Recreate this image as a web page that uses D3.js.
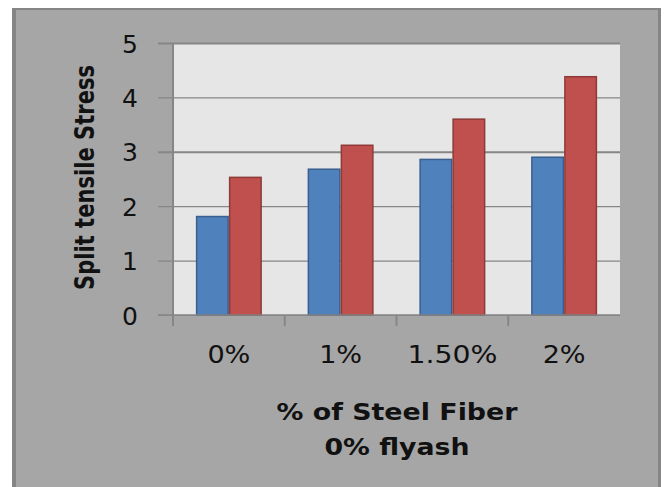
<!DOCTYPE html>
<html>
<head>
<meta charset="utf-8">
<script src="https://cdn.jsdelivr.net/npm/d3@7"></script>
<style>
  html, body { margin: 0; padding: 0; background: #ffffff; }
  svg { display: block; }
</style>
</head>
<body>
<svg id="chart" width="667" height="487"></svg>
<script>
// ---- data ----
const categories = ["0%", "1%", "1.50%", "2%"];
const seriesNames = ["Series1", "Series2"];
const series1 = [1.81, 2.68, 2.86, 2.90];
const series2 = [2.53, 3.12, 3.60, 4.38];
const yTicks = [0, 1, 2, 3, 4, 5];
const yTitle = "Split tensile Stress";
const xTitleLines = ["% of Steel Fiber", "0% flyash"];

// ---- layout ----
const W = 667, H = 487;
const plot = { left: 173, right: 620, top: 43, bottom: 315 };
const colors = ["#4f81bd", "#c0504d"];
const strokes = ["#3a5f8e", "#8e3a38"];

const svg = d3.select("#chart");

// panel
svg.append("rect").attr("x", 0).attr("y", 0).attr("width", W).attr("height", H).attr("fill", "#ffffff");
svg.append("rect").attr("x", 12).attr("y", 8).attr("width", 649).attr("height", H - 8).attr("fill", "#858585");
svg.append("rect").attr("x", 16).attr("y", 10).attr("width", 642).attr("height", H - 10).attr("fill", "#a6a6a6");

// plot background
svg.append("rect")
  .attr("x", plot.left).attr("y", plot.top)
  .attr("width", plot.right - plot.left).attr("height", plot.bottom - plot.top)
  .attr("fill", "#e6e6e6");

const x = d3.scaleBand().domain(categories).range([plot.left, plot.right]).paddingInner(0).paddingOuter(0);
const xs = d3.scaleBand().domain(seriesNames).range([0, x.bandwidth()]).paddingInner(0).paddingOuter(0.693);
const y = d3.scaleLinear().domain([0, 5]).range([plot.bottom, plot.top]);

// gridlines + y ticks
const yAxis = d3.axisLeft(y).tickValues(yTicks).tickSize(0).tickPadding(0).tickFormat(d3.format("d"));
const gy = svg.append("g").attr("transform", `translate(${plot.left},0)`).call(yAxis);
gy.select(".domain").remove();
gy.selectAll(".tick text").remove();
gy.selectAll(".tick").append("line")
  .attr("x1", -15).attr("x2", plot.right - plot.left)
  .attr("stroke", "#868686")
  .attr("stroke-width", d => (d === 3 || d === 5) ? 2 : 1.2);
gy.selectAll(".tick").append("text")
  .attr("x", -35).attr("dy", "0.36em")
  .attr("text-anchor", "end")
  .attr("font-family", "DejaVu Sans, sans-serif")
  .attr("font-size", 25)
  .attr("fill", "#111")
  .text(d => d);

// bars
const data = categories.map((c, i) => ({ c, vals: [series1[i], series2[i]] }));
const groups = svg.append("g").selectAll("g").data(data).join("g")
  .attr("transform", d => `translate(${x(d.c)},0)`);
groups.selectAll("rect").data(d => d.vals.map((v, j) => ({ v, s: seriesNames[j], j }))).join("rect")
  .attr("x", d => xs(d.s) + 0.75)
  .attr("y", d => y(d.v))
  .attr("width", xs.bandwidth() - 1.5)
  .attr("height", d => y(0) - y(d.v))
  .attr("fill", d => colors[d.j])
  .attr("stroke", d => strokes[d.j])
  .attr("stroke-width", 1.5);

// y axis line
svg.append("line")
  .attr("x1", plot.left).attr("x2", plot.left)
  .attr("y1", plot.top).attr("y2", plot.bottom + 11)
  .attr("stroke", "#868686").attr("stroke-width", 2);
// x axis line
svg.append("line")
  .attr("x1", plot.left - 15).attr("x2", plot.right)
  .attr("y1", plot.bottom).attr("y2", plot.bottom)
  .attr("stroke", "#868686").attr("stroke-width", 1.5);
// x tick marks at category boundaries
svg.append("g").selectAll("line").data(categories).join("line")
  .attr("x1", d => x(d)).attr("x2", d => x(d))
  .attr("y1", plot.bottom).attr("y2", plot.bottom + 11)
  .attr("stroke", "#868686").attr("stroke-width", 2);

// x labels
const xlW = { "0%": 43, "1%": 43, "1.50%": 90, "2%": 43 };
svg.append("g").selectAll("text").data(categories).join("text")
  .attr("x", d => x(d) + x.bandwidth() / 2)
  .attr("y", 363)
  .attr("text-anchor", "middle")
  .attr("font-family", "DejaVu Sans, sans-serif")
  .attr("font-size", 25)
  .attr("fill", "#111")
  .attr("textLength", d => xlW[d])
  .attr("lengthAdjust", "spacingAndGlyphs")
  .text(d => d);

// x title
const xtW = [241, 145];
svg.append("g").selectAll("text").data(xTitleLines).join("text")
  .attr("x", 397)
  .attr("y", (d, i) => 420 + i * 35)
  .attr("text-anchor", "middle")
  .attr("font-family", "DejaVu Sans, sans-serif")
  .attr("font-weight", "bold")
  .attr("font-size", 23)
  .attr("fill", "#111")
  .attr("textLength", (d, i) => xtW[i])
  .attr("lengthAdjust", "spacingAndGlyphs")
  .text(d => d);

// y title
svg.append("text")
  .attr("transform", "translate(94,177.5) rotate(-90)")
  .attr("text-anchor", "middle")
  .attr("font-family", "DejaVu Sans, sans-serif")
  .attr("font-weight", "bold")
  .attr("font-size", 26)
  .attr("fill", "#111")
  .attr("textLength", 225)
  .attr("lengthAdjust", "spacingAndGlyphs")
  .text(yTitle);
</script>
</body>
</html>
